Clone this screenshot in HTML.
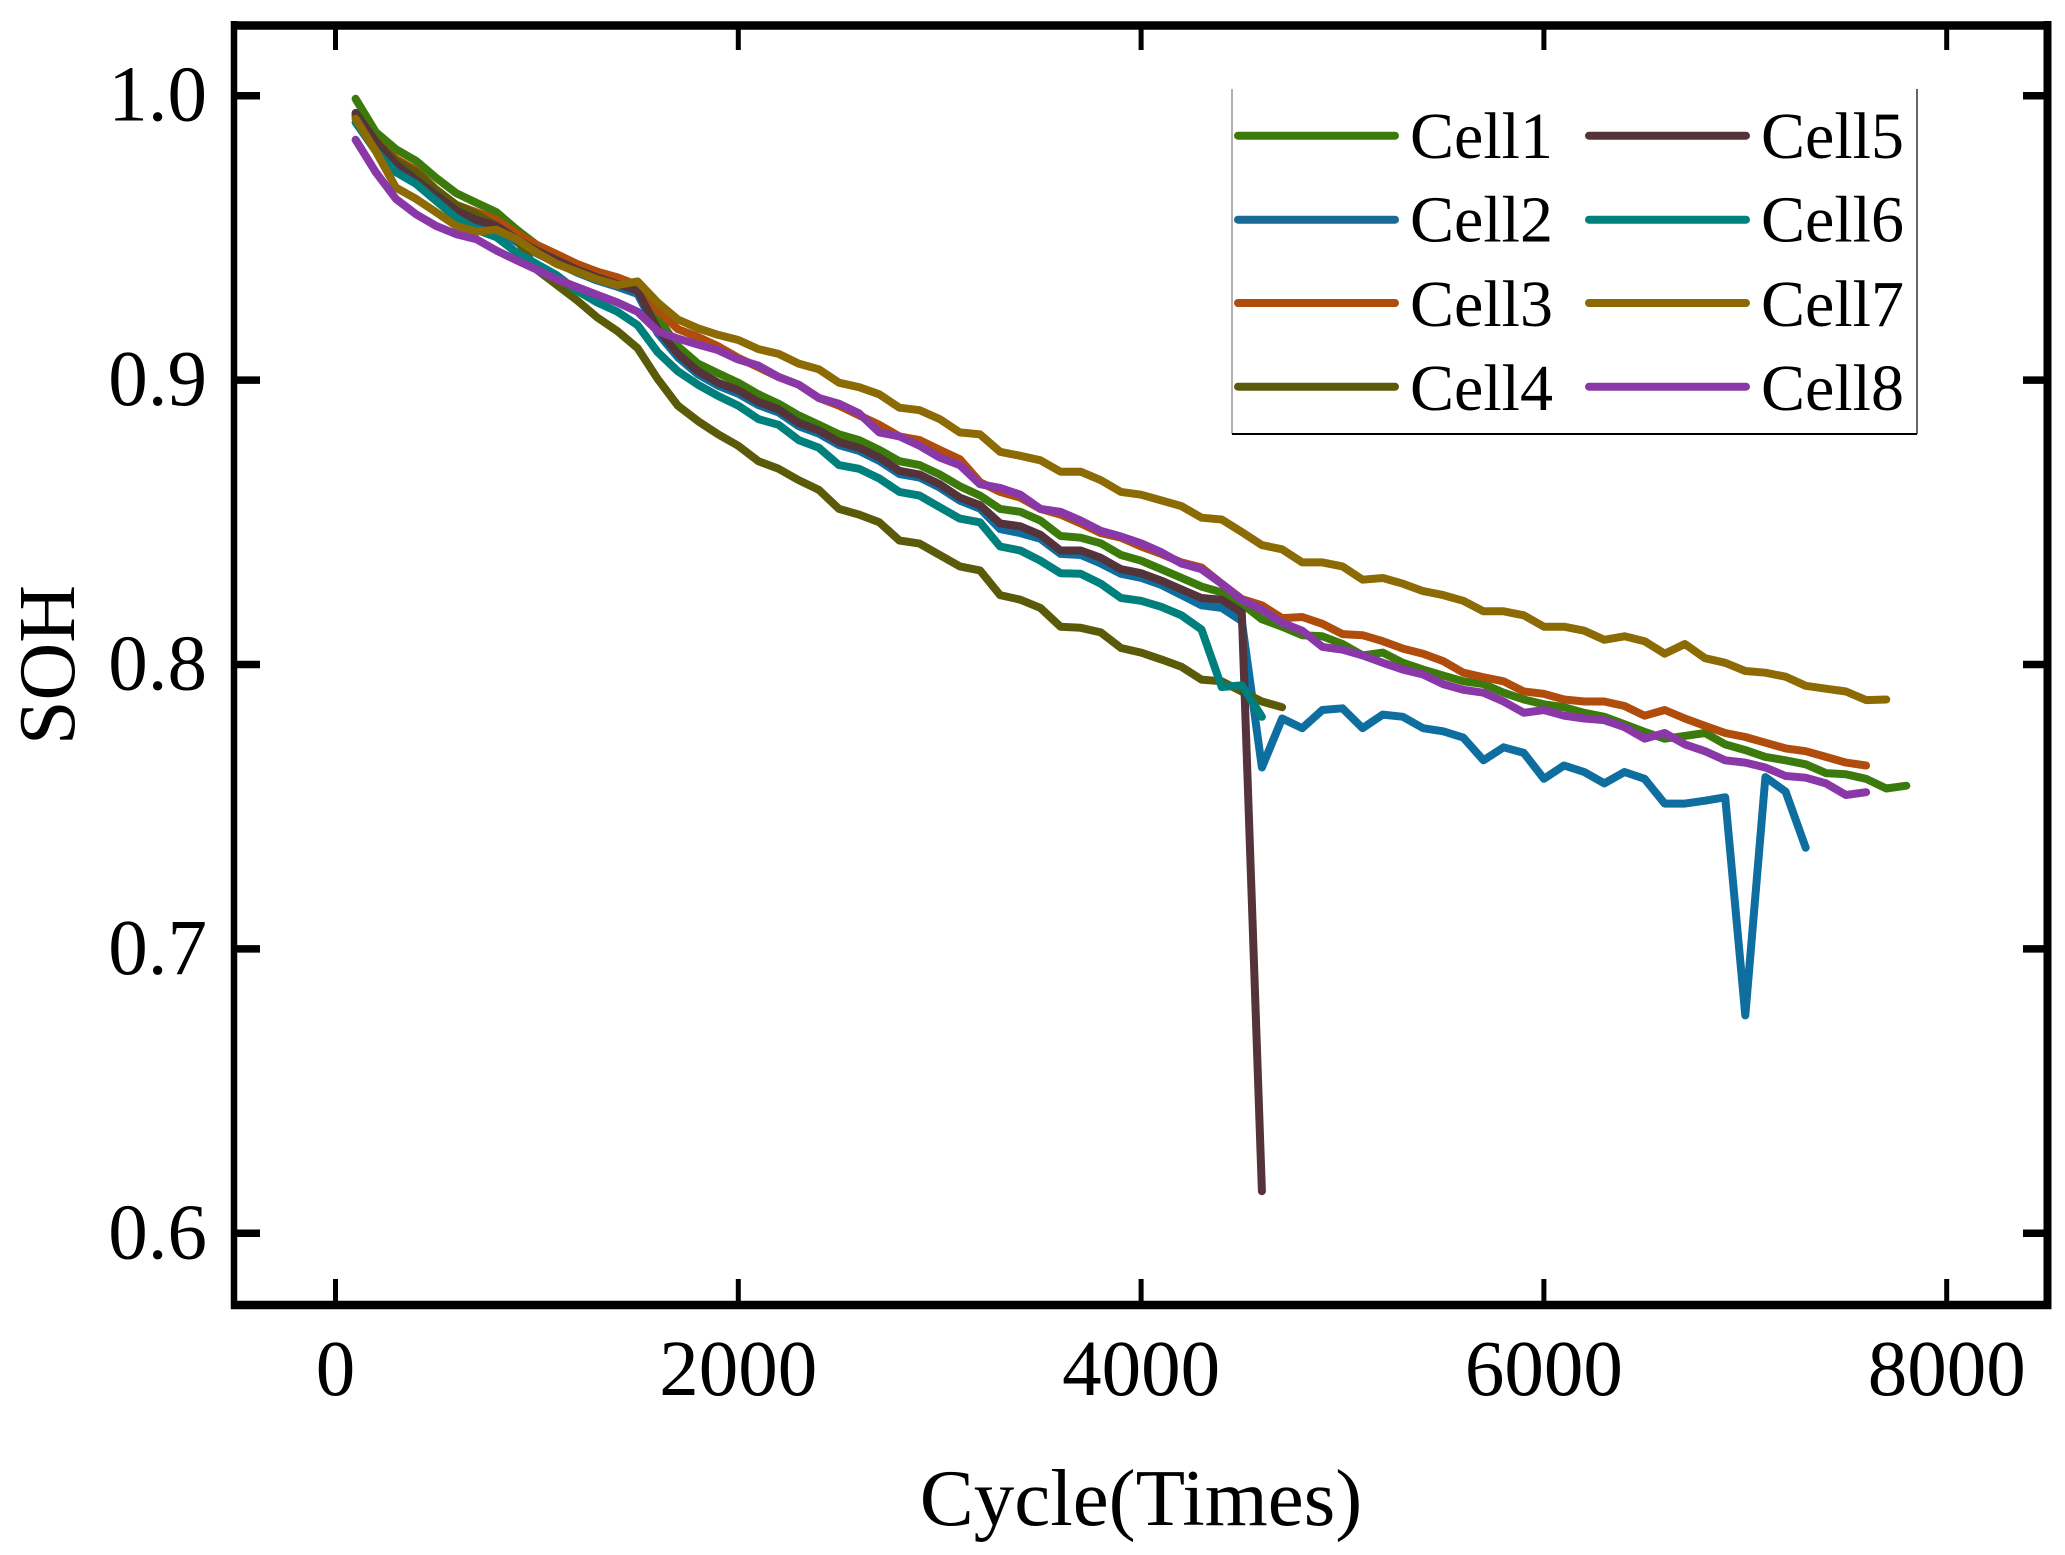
<!DOCTYPE html>
<html lang="en">
<head>
<meta charset="utf-8">
<title>SOH vs Cycle</title>
<style>
html,body{margin:0;padding:0;background:#fff;width:2065px;height:1555px;overflow:hidden}
svg{display:block}
text{font-family:"Liberation Serif",serif;fill:#000}
</style>
</head>
<body>
<svg id="chart" xmlns="http://www.w3.org/2000/svg" width="2065" height="1555" viewBox="0 0 2065 1555">
<rect x="0" y="0" width="2065" height="1555" fill="#fff"/>
<g id="ticks"></g>
<g id="series"></g>
<g id="frame">
<line x1="234" y1="21" x2="234" y2="1309" stroke="#000" stroke-width="6.5"/>
<line x1="2047.5" y1="21" x2="2047.5" y2="1309" stroke="#000" stroke-width="8"/>
<line x1="231" y1="25.5" x2="2051.5" y2="25.5" stroke="#000" stroke-width="8.5"/>
<line x1="231" y1="1305" x2="2051.5" y2="1305" stroke="#000" stroke-width="8.5"/>
</g>
<g id="legend">
<line x1="1232" y1="89" x2="1232" y2="434" stroke="#999" stroke-width="1.5"/>
<line x1="1917" y1="89" x2="1917" y2="434" stroke="#333" stroke-width="1.5"/>
<line x1="1232" y1="434" x2="1917" y2="434" stroke="#000" stroke-width="2"/>
<g><line x1="1238" y1="135.7" x2="1395" y2="135.7" stroke="#3c7a0c" stroke-width="8" stroke-linecap="round"/><text x="1410" y="158" font-size="66">Cell1</text></g>
<g><line x1="1238" y1="219.7" x2="1395" y2="219.7" stroke="#1a6a96" stroke-width="8" stroke-linecap="round"/><text x="1410" y="241.7" font-size="66">Cell2</text></g>
<g><line x1="1238" y1="303" x2="1395" y2="303" stroke="#b04c0c" stroke-width="8" stroke-linecap="round"/><text x="1410" y="326" font-size="66">Cell3</text></g>
<g><line x1="1238" y1="386.7" x2="1395" y2="386.7" stroke="#5a5a08" stroke-width="8" stroke-linecap="round"/><text x="1410" y="410" font-size="66">Cell4</text></g>
<g><line x1="1589" y1="135.7" x2="1746" y2="135.7" stroke="#54333a" stroke-width="8" stroke-linecap="round"/><text x="1761" y="158" font-size="66">Cell5</text></g>
<g><line x1="1589" y1="219.7" x2="1746" y2="219.7" stroke="#00807c" stroke-width="8" stroke-linecap="round"/><text x="1761" y="241.7" font-size="66">Cell6</text></g>
<g><line x1="1589" y1="303" x2="1746" y2="303" stroke="#8c6a04" stroke-width="8" stroke-linecap="round"/><text x="1761" y="326" font-size="66">Cell7</text></g>
<g><line x1="1589" y1="386.7" x2="1746" y2="386.7" stroke="#8a38a8" stroke-width="8" stroke-linecap="round"/><text x="1761" y="410" font-size="66">Cell8</text></g>
</g>
<text x="1141" y="1525" font-size="81" text-anchor="middle">Cycle(Times)</text>
<text transform="translate(74,665) rotate(-90)" font-size="80" text-anchor="middle">SOH</text>
</svg>
<script>
const xTickValues = [0, 2000, 4000, 6000, 8000];
const yTickValues = [1.0, 0.9, 0.8, 0.7, 0.6];
const yTickLabels = ["1.0", "0.9", "0.8", "0.7", "0.6"];
const cycleStart = 100;
const cycleStep = 100;

const cell1 = [.9989,.9872,.9812,.9771,.9711,.9657,.9623,.9590,.9529,.9475,.9442,.9408,.9381,.9354,.9327,.9220,.9119,.9058,.9024,.8991,.8950,.8917,.8876,.8843,.8809,.8789,.8755,.8715,.8701,.8668,.8627,.8594,.8547,
.8537,.8506,.8452,.8446,.8426,.8385,.8365,.8335,.8305,.8274,.8254,.8214,.8159,.8133,.8103,.8099,.8072,.8032,.8042,.8006,.7982,.7961,.7941,.7931,.7901,.7877,.7860,.7850,.7830,.7816,.7790,.7763,.7739,.7749,.7759,.7719,.7699,.7675,.7663,.7649,.7618,.7614,.7598,.7564,.7574];
const cell2 = [.9928,.9825,.9748,.9694,.9640,.9585,.9553,.9530,.9485,.9445,.9411,.9378,.9350,.9328,.9303,.9165,.9080,.9020,.8980,.8952,.8912,.8886,.8838,.8812,.8771,.8751,.8716,.8670,.8657,.8622,.8576,.8548,.8476,
.8462,.8442,.8389,.8385,.8355,.8319,.8305,.8280,.8244,.8208,.8199,.8153,.7638,.7810,.7776,.7840,.7846,.7776,.7824,.7816,.7776,.7765,.7743,.7663,.7709,.7689,.7598,.7645,.7622,.7582,.7622,.7598,.7511,.7511,.7521,.7533,.6766,.7604,.7553,.7356];
const cell3 = [.9933,.9839,.9778,.9738,.9670,.9616,.9590,.9563,.9516,.9475,.9442,.9408,.9381,.9361,.9334,.9246,.9179,.9152,.9119,.9078,.9045,.9011,.8984,.8937,.8910,.8876,.8843,.8802,.8789,.8755,.8722,.8641,.8607,
.8587,.8547,.8527,.8496,.8462,.8446,.8415,.8389,.8359,.8341,.8284,.8230,.8208,.8163,.8167,.8143,.8107,.8103,.8082,.8056,.8038,.8012,.7971,.7955,.7941,.7905,.7897,.7877,.7870,.7870,.7854,.7820,.7840,.7810,.7784,.7759,.7745,.7725,.7705,.7695,.7675,.7655,.7645];
const cell4 = [.9933,.9839,.9771,.9731,.9670,.9616,.9583,.9542,.9495,.9388,.9334,.9280,.9220,.9172,.9112,.9004,.8910,.8856,.8809,.8769,.8715,.8688,.8648,.8614,.8547,.8527,.8500,.8436,.8425,.8385,.8345,.8331,.8244,
.8228,.8199,.8133,.8129,.8113,.8058,.8042,.8018,.7992,.7947,.7941,.7905,.7870,.7850];
const cell5 = [.9939,.9839,.9758,.9704,.9650,.9596,.9563,.9542,.9495,.9455,.9421,.9388,.9361,.9338,.9314,.9179,.9092,.9031,.8991,.8964,.8923,.8897,.8849,.8823,.8782,.8762,.8728,.8681,.8668,.8634,.8587,.8560,.8496,
.8486,.8456,.8401,.8401,.8375,.8335,.8321,.8295,.8264,.8234,.8228,.8183,.6148];
const cell6 = [.9906,.9805,.9731,.9690,.9630,.9570,.9529,.9502,.9448,.9408,.9368,.9314,.9273,.9240,.9193,.9098,.9031,.8984,.8944,.8910,.8863,.8843,.8789,.8762,.8701,.8688,.8654,.8607,.8594,.8553,.8513,.8500,.8415,
.8401,.8365,.8321,.8319,.8284,.8234,.8224,.8203,.8173,.8123,.7921,.7927,.7816];
const cell7 = [.9919,.9805,.9677,.9637,.9590,.9542,.9522,.9529,.9495,.9448,.9408,.9381,.9354,.9334,.9347,.9273,.9213,.9182,.9159,.9141,.9109,.9092,.9058,.9038,.8991,.8975,.8950,.8903,.8894,.8863,.8816,.8809,.8748,
.8734,.8718,.8678,.8678,.8648,.8607,.8597,.8577,.8557,.8516,.8510,.8466,.8420,.8405,.8359,.8359,.8345,.8298,.8304,.8284,.8258,.8244,.8224,.8187,.8187,.8173,.8133,.8133,.8119,.8087,.8099,.8082,.8038,.8072,.8022,.8006,.7977,.7971,.7957,.7925,.7915,.7905,.7875,.7877];
const cell8 = [.9845,.9731,.9637,.9583,.9542,.9513,.9495,.9455,.9421,.9388,.9354,.9327,.9300,.9273,.9240,.9172,.9146,.9125,.9105,.9072,.9051,.9011,.8984,.8937,.8917,.8883,.8816,.8802,.8769,.8728,.8701,.8634,.8621,
.8597,.8547,.8537,.8506,.8470,.8450,.8426,.8395,.8355,.8335,.8284,.8228,.8193,.8147,.8119,.8062,.8052,.8032,.8006,.7982,.7965,.7931,.7911,.7901,.7870,.7830,.7840,.7820,.7810,.7804,.7780,.7739,.7759,.7719,.7695,.7663,.7655,.7638,.7608,.7602,.7582,.7541,.7551];

const NS = "http://www.w3.org/2000/svg";
function xScale(v){ return 335.5 + 0.2014 * v; }
function yScale(s){ return 95.7 + (1 - s) * 2844; }

const ticksGroup = document.getElementById("ticks");
const seriesGroup = document.getElementById("series");

function makeLine(x1, y1, x2, y2, width){
  const el = document.createElementNS(NS, "line");
  el.setAttribute("x1", x1);
  el.setAttribute("y1", y1);
  el.setAttribute("x2", x2);
  el.setAttribute("y2", y2);
  el.setAttribute("stroke", "#000");
  el.setAttribute("stroke-width", width);
  return el;
}

xTickValues.forEach(function(v){
  const px = xScale(v);
  const bottom = makeLine(px, 1305, px, 1279, 5);
  
  
  ticksGroup.appendChild(bottom);
  const top = makeLine(px, 25, px, 50, 5);
  
  
  ticksGroup.appendChild(top);
  const label = document.createElementNS(NS, "text");
  label.setAttribute("x", px);
  label.setAttribute("y", 1395);
  label.setAttribute("font-size", "79");
  label.setAttribute("text-anchor", "middle");
  label.textContent = String(v);
  
  
  ticksGroup.appendChild(label);
});

yTickValues.forEach(function(v, i){
  const py = yScale(v);
  const left = makeLine(234, py, 260, py, 7.5);
  
  
  ticksGroup.appendChild(left);
  const right = makeLine(2047, py, 2023, py, 7.5);
  
  
  ticksGroup.appendChild(right);
  const label = document.createElementNS(NS, "text");
  label.setAttribute("x", 207);
  label.setAttribute("y", py + 25);
  label.setAttribute("font-size", "79");
  label.setAttribute("text-anchor", "end");
  label.textContent = yTickLabels[i];
  
  
  ticksGroup.appendChild(label);
});

function drawSeries(values, color, name){
  const pts = values.map(function(s, i){
    return xScale(cycleStart + i * cycleStep).toFixed(1) + "," + yScale(s).toFixed(1);
  }).join(" ");
  const el = document.createElementNS(NS, "polyline");
  el.setAttribute("points", pts);
  el.setAttribute("fill", "none");
  el.setAttribute("stroke", color);
  el.setAttribute("stroke-width", "8");
  el.setAttribute("stroke-linejoin", "round");
  el.setAttribute("stroke-linecap", "round");
  
  
  seriesGroup.appendChild(el);
}

drawSeries(cell1, "#3c7a0c", "line-cell1");
drawSeries(cell2, "#0f6ea0", "line-cell2");
drawSeries(cell3, "#b04c0c", "line-cell3");
drawSeries(cell4, "#5a5a08", "line-cell4");
drawSeries(cell5, "#54333a", "line-cell5");
drawSeries(cell6, "#00807c", "line-cell6");
drawSeries(cell7, "#8c6a04", "line-cell7");
drawSeries(cell8, "#8a38a8", "line-cell8");
</script>
</body>
</html>
